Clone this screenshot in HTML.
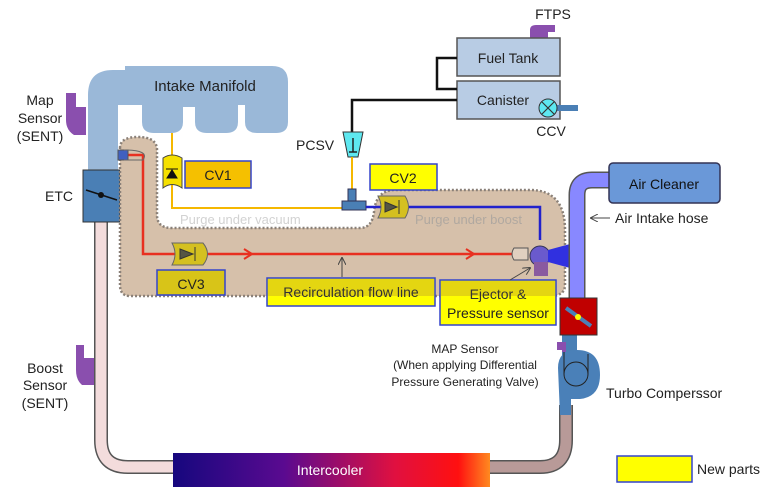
<!DOCTYPE html>
<html><head><meta charset="utf-8"><style>
html,body{margin:0;padding:0;background:#fff;width:768px;height:500px;overflow:hidden}
svg{display:block;font-family:"Liberation Sans",sans-serif}
</style></head><body>
<svg width="768" height="500" viewBox="0 0 768 500" xmlns="http://www.w3.org/2000/svg">
<defs>
<linearGradient id="ic" x1="0" x2="1" y1="0" y2="0">
<stop offset="0" stop-color="#16077e"/><stop offset="0.35" stop-color="#5a0a90"/><stop offset="0.7" stop-color="#e01040"/><stop offset="0.9" stop-color="#ff1010"/><stop offset="1" stop-color="#ff8a20"/>
</linearGradient>
<marker id="ah" markerWidth="8" markerHeight="8" refX="7" refY="4" orient="auto"><path d="M0,0 L8,4 L0,8" fill="none" stroke="#444" stroke-width="1"/></marker>
</defs>
<path d="M101,222 L101,440 Q101,467 128,467 L175,467" fill="none" stroke="#555" stroke-width="14"/>
<path d="M101,222 L101,440 Q101,467 128,467 L175,467" fill="none" stroke="#f3dcdc" stroke-width="11"/>
<path d="M488,467 L540,467 Q566,467 566,440 L566,405" fill="none" stroke="#555" stroke-width="14"/>
<path d="M488,467 L540,467 Q566,467 566,440 L566,405" fill="none" stroke="#b89a98" stroke-width="11"/>
<rect x="173" y="453" width="317" height="34" fill="url(#ic)"/>
<text x="330" y="475" font-size="14" fill="#fff" text-anchor="middle">Intercooler</text>
<path d="M88,195 L88,95 Q88,70 113,70 L125,70 L125,66 L272,66 Q288,66 288,82 L288,122 Q288,133 276,133 L257,133 Q245,133 245,122 L245,105 L238,105 L238,122 Q238,133 226,133 L207,133 Q195,133 195,122 L195,107 L183,107 L183,122 Q183,133 171,133 L154,133 Q142,133 142,122 L142,105 L118,105 L118,195 Z" fill="#9ab8d8"/>
<text x="205" y="91" font-size="15" fill="#222" text-anchor="middle">Intake Manifold</text>
<path d="M66,93 L76,93 L76,107 L86,107 L86,135 L74,135 Q66,130 66,120 Z" fill="#8a4fae"/>
<text x="40" y="105" font-size="14" fill="#222" text-anchor="middle">Map</text>
<text x="40" y="123" font-size="14" fill="#222" text-anchor="middle">Sensor</text>
<text x="40" y="141" font-size="14" fill="#222" text-anchor="middle">(SENT)</text>
<rect x="83" y="170" width="37" height="52" fill="#4a7fb5" stroke="#333"/>
<line x1="86" y1="190" x2="117" y2="200" stroke="#111" stroke-width="1.5"/><circle cx="101" cy="195" r="3" fill="#111"/>
<text x="45" y="201" font-size="14" fill="#222">ETC</text>
<path d="M120,148 Q120,137 138,137 Q157,137 157,150 L157,215 Q157,228 172,228 L360,228 Q372,228 374,212 Q376,190 395,190 L530,190 Q565,190 565,230 L565,285 Q565,296 550,296 L130,296 Q120,296 120,285 Z" fill="#d6c0aa" stroke="#8a8078" stroke-width="2.5" stroke-dasharray="2,2"/>
<text x="180" y="224" font-size="13" fill="#d2d2d2">Purge under vacuum</text>
<text x="415" y="224" font-size="13" fill="#b0a8a0">Purge under boost</text>
<path d="M530,38 L530,30 Q530,25 536,25 L555,25 L555,32 L548,32 L548,38 Z" fill="#8a4fae"/>
<text x="553" y="19" font-size="14" fill="#222" text-anchor="middle">FTPS</text>
<rect x="457" y="38" width="103" height="38" fill="#b8cce4" stroke="#555" stroke-width="1.5"/>
<text x="508" y="63" font-size="14" fill="#222" text-anchor="middle">Fuel Tank</text>
<rect x="457" y="81" width="103" height="38" fill="#b8cce4" stroke="#555" stroke-width="1.5"/>
<text x="503" y="105" font-size="14" fill="#222" text-anchor="middle">Canister</text>
<rect x="555" y="105" width="23" height="6" fill="#4a7fb5"/>
<circle cx="548" cy="108" r="9" fill="#5ee8f0" stroke="#333"/>
<path d="M542,102 L554,114 M554,102 L542,114" stroke="#333" stroke-width="1.2"/>
<text x="551" y="136" font-size="14" fill="#222" text-anchor="middle">CCV</text>
<path d="M457,58 L437,58 L437,89 L457,89" fill="none" stroke="#111" stroke-width="2.5"/>
<path d="M457,100 L352,100 L352,132" fill="none" stroke="#111" stroke-width="2.5"/>
<path d="M343,132 L363,132 L358,157 L348,157 Z" fill="#5ee8f0" stroke="#333"/>
<path d="M353,138 L353,152 M349,152 L357,152" stroke="#222" stroke-width="1.5"/>
<text x="296" y="150" font-size="14" fill="#222">PCSV</text>
<path d="M352,157 L352,190 M172,133 L172,208 L344,208" fill="none" stroke="#f5b800" stroke-width="2"/>
<rect x="348" y="189" width="8" height="12" fill="#4a7fb5" stroke="#335"/>
<rect x="342" y="201" width="24" height="9" fill="#4a7fb5" stroke="#335"/>
<path d="M163,158 Q172,152 182,158 L182,188 Q172,181 163,188 Z" fill="#f5e000" stroke="#444"/>
<path d="M167,178 L177,178 L172,170 Z M166,169 L178,169" fill="#111" stroke="#111"/>
<rect x="185" y="161" width="66" height="27" fill="#f5c000" stroke="#3344cc" stroke-width="1.5"/>
<text x="218" y="180" font-size="14" fill="#222" text-anchor="middle">CV1</text>
<rect x="370" y="164" width="67" height="26" fill="#ffff00" stroke="#3344cc" stroke-width="1.5"/>
<text x="403" y="183" font-size="14" fill="#222" text-anchor="middle">CV2</text>
<path d="M366,207 L540,207 L540,240" fill="none" stroke="#2222cc" stroke-width="2.5"/>
<path d="M378,196 L405,196 Q412,207 405,218 L378,218 Q384,207 378,196 Z" fill="#d4c020" stroke="#666"/>
<path d="M385,202 L397,207 L385,212 Z M399,200 L399,214" fill="#554" stroke="#333"/>
<path d="M120,155 L143,155 L143,254 L512,254" fill="none" stroke="#e83020" stroke-width="2.5"/>
<path d="M244,249 L252,254 L244,259 M466,249 L474,254 L466,259" fill="none" stroke="#e83020" stroke-width="2"/>
<rect x="118" y="150" width="10" height="10" fill="#4060c0" stroke="#555"/>
<path d="M124,150 Q150,150 143,160 L124,160" fill="none" stroke="#666"/>
<path d="M172,243 L203,243 Q212,254 203,265 L172,265 Q178,254 172,243 Z" fill="#d4c020" stroke="#666"/>
<path d="M180,249 L193,254 L180,259 Z M195,247 L195,261" fill="#554" stroke="#333"/>
<rect x="157" y="270" width="68" height="25" fill="#d8c418" stroke="#3344cc" stroke-width="1.5"/>
<text x="191" y="289" font-size="14" fill="#222" text-anchor="middle">CV3</text>
<path d="M514,248 Q510,254 514,260 L528,260 L528,248 Z" fill="#e0d0c0" stroke="#555"/>
<circle cx="540" cy="256" r="10" fill="#6a5acd" stroke="#335"/>
<rect x="534" y="262" width="14" height="14" fill="#8a5aa0"/>
<path d="M548,250 L570,244 L570,268 L548,262 Z" fill="#3030e0"/>
<path d="M577,298 L577,195 Q577,180 592,180 L612,180" fill="none" stroke="#555" stroke-width="17"/>
<path d="M577,298 L577,195 Q577,180 592,180 L612,180" fill="none" stroke="#8888ff" stroke-width="14"/>
<rect x="609" y="163" width="111" height="40" rx="4" fill="#6a98d8" stroke="#335" stroke-width="1.5"/>
<text x="664" y="189" font-size="14" fill="#111" text-anchor="middle">Air Cleaner</text>
<line x1="610" y1="218" x2="591" y2="218" stroke="#444" marker-end="url(#ah)"/>
<text x="615" y="223" font-size="14" fill="#222">Air Intake hose</text>
<rect x="267" y="278" width="168" height="28" fill="#ffff00" stroke="#3344cc" stroke-width="1.5"/>
<rect x="268" y="279" width="166" height="17" fill="#d8c418" opacity="0.7"/>
<text x="351" y="297" font-size="14" fill="#333" text-anchor="middle">Recirculation flow line</text>
<line x1="342" y1="277" x2="342" y2="258" stroke="#444" marker-end="url(#ah)"/>
<rect x="440" y="280" width="116" height="45" fill="#ffff00" stroke="#3344cc" stroke-width="1.5"/>
<rect x="441" y="281" width="114" height="15" fill="#d8c418" opacity="0.7"/>
<text x="498" y="299" font-size="14" fill="#333" text-anchor="middle">Ejector &amp;</text>
<text x="498" y="318" font-size="14" fill="#222" text-anchor="middle">Pressure sensor</text>
<line x1="510" y1="280" x2="530" y2="268" stroke="#444" marker-end="url(#ah)"/>
<rect x="562" y="334" width="15" height="30" fill="#4a7fb5"/>
<path d="M558,368 Q558,350 577,350 Q600,350 600,375 Q600,397 580,399 L571,399 L571,415 L560,415 Z" fill="#4a80b8"/>
<circle cx="576" cy="374" r="12" fill="#4a80b8" stroke="#222"/>
<path d="M564,374 L564,352 M588,374 L588,354" stroke="#222"/>
<rect x="560" y="298" width="37" height="37" fill="#c00000" stroke="#333"/>
<line x1="566" y1="308" x2="591" y2="326" stroke="#4a80b8" stroke-width="4"/><circle cx="578" cy="317" r="3" fill="#ff0"/>
<path d="M557,342 L566,342 L566,352 L562,352 L562,350 L557,350 Z" fill="#8a4fae"/>
<text x="606" y="398" font-size="14" fill="#222">Turbo Comperssor</text>
<text x="465" y="353" font-size="12" fill="#222" text-anchor="middle">MAP Sensor</text>
<text x="465" y="369" font-size="12" fill="#222" text-anchor="middle">(When applying Differential</text>
<text x="465" y="386" font-size="12" fill="#222" text-anchor="middle">Pressure Generating Valve)</text>
<path d="M76,345 L84,345 L84,358 L94,358 L94,385 L82,385 Q76,380 76,370 Z" fill="#8a4fae"/>
<text x="45" y="373" font-size="14" fill="#222" text-anchor="middle">Boost</text>
<text x="45" y="390" font-size="14" fill="#222" text-anchor="middle">Sensor</text>
<text x="45" y="408" font-size="14" fill="#222" text-anchor="middle">(SENT)</text>
<rect x="617" y="456" width="75" height="26" fill="#ffff00" stroke="#3344cc" stroke-width="1.5"/>
<text x="697" y="474" font-size="14" fill="#222">New parts</text>
</svg>
</body></html>
